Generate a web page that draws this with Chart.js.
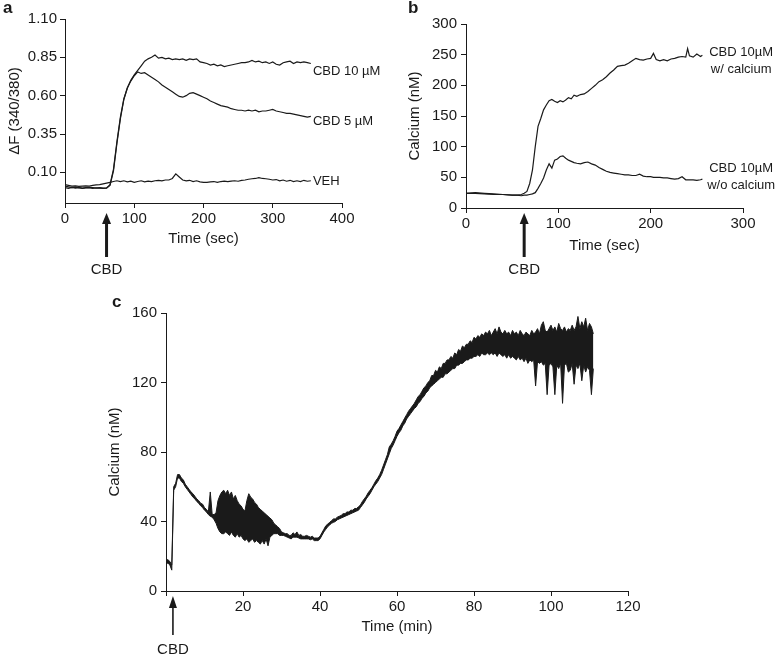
<!DOCTYPE html>
<html lang="fr">
<head>
<meta charset="utf-8">
<title>CBD - calcium intracellulaire</title>
<script src="https://cdn.jsdelivr.net/npm/chart.js@4.4.1/dist/chart.umd.min.js"></script>
<style>
  html, body { margin: 0; padding: 0; background: #fff; }
  #page { position: relative; width: 777px; height: 668px; }
  canvas { position: absolute; }
</style>
</head>
<body>
<div id="page">
  <canvas id="graph-a" width="390" height="290" style="left:0;top:0"></canvas>
  <canvas id="graph-b" width="387" height="290" style="left:390px;top:0"></canvas>
  <canvas id="graph-c" width="777" height="378" style="left:0;top:290px"></canvas>
</div>
<script>
/*
 * Trois panneaux : reponse calcique au CBD (a: ratio 340/380, b: calcium en nM,
 * c: enregistrement long en minutes). Valeurs relevees a l'oeil sur la figure.
 */

const ENCRE = "#1a1a1a";
const POLICE = "'Liberation Sans', Arial, Helvetica, sans-serif";

// ---------- Donnees panneau a (secondes / delta F) ----------

const tempsA = [
  0, 5, 10, 15, 20, 25, 30, 35, 40, 45,
  50, 55, 60, 65, 70, 75, 80, 85, 90, 95,
  100, 105, 110, 115, 120, 125, 130, 135, 140, 145,
  150, 155, 160, 165, 170, 175, 180, 185, 190, 195,
  200, 205, 210, 215, 220, 225, 230, 235, 240, 245,
  250, 255, 260, 265, 270, 275, 280, 285, 290, 295,
  300, 305, 310, 315, 320, 325, 330, 335, 340, 345,
  350, 355
];
const cbd10A = [
  0.01, 0.005, 0.0, 0.003, 0.0, -0.003, 0.0, 0.002, 0.0, -0.002,
  0.0, -0.003, -0.002, 0.02, 0.12, 0.30, 0.46, 0.58, 0.65, 0.70,
  0.735, 0.765, 0.795, 0.825, 0.84, 0.85, 0.865, 0.845, 0.85, 0.84,
  0.845, 0.835, 0.84, 0.835, 0.84, 0.83, 0.84, 0.835, 0.84, 0.82,
  0.815, 0.81, 0.80, 0.805, 0.795, 0.80, 0.79, 0.795, 0.80, 0.805,
  0.81, 0.815, 0.815, 0.82, 0.83, 0.82, 0.825, 0.815, 0.82, 0.81,
  0.82, 0.805, 0.80, 0.815, 0.82, 0.825, 0.81, 0.82, 0.815, 0.82,
  0.815, 0.81
];
const cbd5A = [
  0.0, -0.005, 0.002, -0.003, 0.0, -0.005, -0.002, 0.0, -0.004, -0.002,
  -0.003, -0.005, -0.004, 0.015, 0.11, 0.29, 0.45, 0.575, 0.65, 0.695,
  0.73, 0.755, 0.745, 0.75, 0.735, 0.72, 0.705, 0.69, 0.67, 0.655,
  0.64, 0.625, 0.61, 0.595, 0.59, 0.60, 0.615, 0.62, 0.61, 0.60,
  0.59, 0.58, 0.565, 0.555, 0.545, 0.535, 0.53, 0.525, 0.515, 0.51,
  0.505, 0.505, 0.50, 0.505, 0.50, 0.505, 0.495, 0.50, 0.50, 0.505,
  0.51, 0.50, 0.495, 0.49, 0.485, 0.485, 0.48, 0.475, 0.47, 0.465,
  0.46, 0.465
];
const vehA = [
  0.02, 0.015, 0.01, 0.012, 0.008, 0.01, 0.012, 0.01, 0.015, 0.018,
  0.02, 0.025, 0.03, 0.035, 0.04, 0.045, 0.04, 0.045, 0.038, 0.042,
  0.035, 0.04, 0.045, 0.038, 0.042, 0.04, 0.045, 0.048, 0.045, 0.05,
  0.05, 0.06, 0.09, 0.07, 0.05, 0.045, 0.048, 0.04, 0.045, 0.038,
  0.035, 0.035, 0.038, 0.04, 0.035, 0.04, 0.042, 0.04, 0.043, 0.045,
  0.042, 0.048, 0.05, 0.055, 0.058, 0.06, 0.065, 0.06, 0.058, 0.055,
  0.05, 0.053, 0.045, 0.05, 0.042, 0.048, 0.04, 0.045, 0.04, 0.048,
  0.042, 0.045
];
const graduationsXA = [0, 100, 200, 300, 400];
const graduationsYA = [0.10, 0.35, 0.60, 0.85, 1.10];

// ---------- Donnees panneau b (secondes / nM) ----------

const tempsB = [
  0, 10, 20, 30, 40, 50, 55, 60, 63, 66,
  69, 72, 75, 78, 81, 84, 87, 90, 93, 96,
  99, 102, 105, 108, 111, 114, 117, 120, 124, 128,
  132, 136, 140, 144, 148, 152, 156, 160, 164, 168,
  172, 176, 180, 184, 188, 192, 196, 200, 203, 206,
  210, 214, 218, 222, 226, 230, 234, 238, 240, 242,
  246, 250, 254, 256
];
const avecCalciumB = [
  24, 25, 24, 23, 22, 21, 21, 22, 24, 27,
  40, 62, 100, 133, 146, 160, 168, 175, 177, 174,
  172, 175, 173, 176, 180, 178, 184, 182, 185, 186,
  190, 195, 200, 206, 209, 214, 220, 225, 231, 232,
  233, 236, 240, 244, 242, 241, 243, 244, 252, 242,
  240, 242, 240, 243, 244, 246, 247, 246, 260, 248,
  246, 251, 247, 249
];
const sansCalciumB = [
  24, 24, 23, 22, 22, 21, 21, 20, 21, 21,
  22, 23, 25, 32, 40, 49, 62, 72, 65, 78,
  80, 84, 85, 81, 78, 76, 74, 73, 72, 74,
  75, 72, 70, 66, 63, 60, 58, 57, 56, 55,
  54, 54, 53, 53, 55, 52, 51, 51, 50, 50,
  50, 49, 49, 48, 47, 48, 51, 46, 46, 46,
  46, 45, 46, 47
];
const graduationsXB = [0, 100, 200, 300];
const graduationsYB = [0, 50, 100, 150, 200, 250, 300];

// ---------- Donnees panneau c (minutes / nM, min et max par demi-minute) ----------

const tempsC = [
  0, 0.5, 1, 1.5, 2, 2.5, 3, 3.5, 4, 4.5,
  5, 5.5, 6, 6.5, 7, 7.5, 8, 8.5, 9, 9.5,
  10, 10.5, 11, 11.5, 12, 12.5, 13, 13.5, 14, 14.5,
  15, 15.5, 16, 16.5, 17, 17.5, 18, 18.5, 19, 19.5,
  20, 20.5, 21, 21.5, 22, 22.5, 23, 23.5, 24, 24.5,
  25, 25.5, 26, 26.5, 27, 27.5, 28, 28.5, 29, 29.5,
  30, 30.5, 31, 31.5, 32, 32.5, 33, 33.5, 34, 34.5,
  35, 35.5, 36, 36.5, 37, 37.5, 38, 38.5, 39, 39.5,
  40, 40.5, 41, 41.5, 42, 42.5, 43, 43.5, 44, 44.5,
  45, 45.5, 46, 46.5, 47, 47.5, 48, 48.5, 49, 49.5,
  50, 50.5, 51, 51.5, 52, 52.5, 53, 53.5, 54, 54.5,
  55, 55.5, 56, 56.5, 57, 57.5, 58, 58.5, 59, 59.5,
  60, 60.5, 61, 61.5, 62, 62.5, 63, 63.5, 64, 64.5,
  65, 65.5, 66, 66.5, 67, 67.5, 68, 68.5, 69, 69.5,
  70, 70.5, 71, 71.5, 72, 72.5, 73, 73.5, 74, 74.5,
  75, 75.5, 76, 76.5, 77, 77.5, 78, 78.5, 79, 79.5,
  80, 80.5, 81, 81.5, 82, 82.5, 83, 83.5, 84, 84.5,
  85, 85.5, 86, 86.5, 87, 87.5, 88, 88.5, 89, 89.5,
  90, 90.5, 91, 91.5, 92, 92.5, 93, 93.5, 94, 94.5,
  95, 95.5, 96, 96.5, 97, 97.5, 98, 98.5, 99, 99.5,
  100, 100.5, 101, 101.5, 102, 102.5, 103, 103.5, 104, 104.5,
  105, 105.5, 106, 106.5, 107, 107.5, 108, 108.5, 109, 109.5,
  110, 110.5, 111
];
const calciumMinC = [
  16, 16, 15, 12, 58, 60, 65, 65, 63, 62,
  60, 58.5, 57, 55.5, 54, 53, 51.5, 50.5, 49, 48,
  46.5, 45.5, 44, 43, 42.5, 41, 39, 36, 34, 33,
  33, 34, 33, 32, 34, 32, 31, 33, 31, 32,
  30, 29, 30, 28, 29, 30, 28, 29, 28, 27,
  29, 27, 30, 26, 31, 32, 33, 33, 33, 32,
  32, 32, 31.5, 31, 30.5, 30, 31, 31, 31, 30.5,
  30, 30, 30, 30, 30, 29.5, 30, 29, 29, 29,
  30, 32, 34, 35.5, 37, 38, 39, 39.5, 40, 41,
  41.5, 42, 42.5, 43, 43.5, 44, 44.5, 45, 45.5, 46,
  46.5, 48, 49.5, 51, 53, 54.5, 56, 58, 60, 61.5,
  63, 65, 67, 70, 73, 76, 79, 82, 84, 86.5,
  89, 91, 92.5, 95, 96.5, 99, 100.5, 102, 103.5, 105,
  106, 108, 109, 111, 112, 114, 115, 117, 118, 119,
  120, 121, 122, 123, 123, 125, 125, 126, 127, 128,
  128, 130, 130, 131, 131, 132, 133, 133, 134, 134,
  135, 135, 136, 135, 137, 136, 136, 137, 136, 137,
  136, 137, 135, 137, 136, 135, 136, 134, 136, 134,
  135, 134, 133, 135, 133, 134, 132, 134, 131, 133,
  132, 133, 118, 132, 131, 132, 130, 131, 113, 130,
  131, 129, 113, 130, 128, 131, 108, 130, 131, 126,
  127, 131, 119, 130, 128, 131, 121, 130, 126, 129,
  127, 113, 128
];
const calciumMaxC = [
  18, 18, 17, 15, 60, 62, 67, 67, 65, 64,
  61.5, 60, 58.5, 57, 56, 54.5, 53, 52, 50.5, 50,
  48, 47, 45.5, 57, 44, 44, 45, 52, 55, 57,
  58, 56, 58, 55, 57, 53, 55, 52, 50, 49,
  47, 46, 52, 56, 54, 53, 51, 50, 48, 47,
  46, 45, 44, 43, 42, 41, 39, 38, 37, 36,
  34, 33.5, 33, 33, 32, 32, 33.5, 32.5, 34, 32,
  32.5, 31.5, 31.5, 32, 31.5, 31, 31.5, 30.5, 30.5, 30.5,
  31.5, 33.5, 35.5, 37.5, 38.5, 39.5, 40.5, 41.5, 41.5, 42.5,
  43, 43.5, 44.5, 44.5, 45.5, 45.5, 46.5, 46.5, 47.5, 47.5,
  48.5, 49.5, 51.5, 53, 54.5, 56.5, 58, 59.5, 61.5, 63.5,
  65, 67, 69.5, 72.5, 75.5, 78.5, 83, 84.5, 86.5, 89,
  92, 93.5, 95.5, 97.5, 99.5, 101.5, 103.5, 105, 106.5, 108,
  110, 112, 113, 115, 117, 118, 120, 121, 124, 124,
  127, 126, 129, 128, 131, 131, 133, 133, 135, 134,
  137, 136, 139, 138, 141, 140, 142, 142, 144, 143,
  146, 145, 147, 146, 148, 147, 149, 148, 150, 147,
  149, 151, 148, 152, 149, 148, 150, 148, 149, 147,
  150, 148, 149, 147, 150, 148, 147, 149, 148, 147,
  150, 148, 149, 151, 148, 153, 155, 150, 149, 151,
  153, 150, 152, 149, 154, 151, 150, 152, 149, 151,
  150, 153, 150, 152, 158, 151, 155, 152, 157, 150,
  154, 152, 148
];
const graduationsXC = [0, 20, 40, 60, 80, 100, 120];
const graduationsYC = [0, 40, 80, 120, 160];

// ---------- Plugin : lettre, etiquettes des courbes, fleche CBD ----------

const decor = {
  id: "decor",
  afterDraw(chart, args, opts) {
    const ctx = chart.ctx;
    const sx = chart.scales.x;
    const sy = chart.scales.y;
    const bas = chart.chartArea.bottom;
    ctx.save();
    ctx.fillStyle = ENCRE;
    ctx.strokeStyle = ENCRE;

    // Lettre du panneau
    ctx.font = "bold 17px " + POLICE;
    ctx.textAlign = "left";
    ctx.textBaseline = "alphabetic";
    ctx.fillText(opts.lettre, opts.lettreX, opts.lettreY);

    // Etiquettes au bout des courbes
    ctx.font = "13px " + POLICE;
    ctx.textBaseline = "middle";
    for (const e of opts.etiquettes) {
      ctx.textAlign = opts.alignement;
      const px = sx.getPixelForValue(e.x);
      const py = sy.getPixelForValue(e.y);
      e.lignes.forEach((l, i) => ctx.fillText(l, px, py + i * 17));
    }

    // Fleche d'ajout du CBD sous l'axe des x
    const f = opts.fleche;
    const fx = sx.getPixelForValue(f.x);
    ctx.lineWidth = f.epaisseur;
    ctx.beginPath();
    ctx.moveTo(fx, bas + f.pointe + f.tete - 1);
    ctx.lineTo(fx, bas + f.fin);
    ctx.stroke();
    ctx.beginPath();
    ctx.moveTo(fx, bas + f.pointe);
    ctx.lineTo(fx - f.largeur / 2, bas + f.pointe + f.tete);
    ctx.lineTo(fx + f.largeur / 2, bas + f.pointe + f.tete);
    ctx.closePath();
    ctx.fill();
    ctx.font = "15px " + POLICE;
    ctx.textAlign = "center";
    ctx.fillText("CBD", fx, bas + f.texte);
    ctx.restore();
  }
};

// ---------- Construction des graphiques ----------

function points(temps, valeurs) {
  return temps.map((t, i) => ({ x: t, y: valeurs[i] }));
}

function axe(p) {
  return {
    type: "linear",
    min: p.min,
    max: p.max,
    afterBuildTicks: s => { s.ticks = p.graduations.map(v => ({ value: v })); },
    afterFit: s => { if (p.largeur) s.width = p.largeur; if (p.hauteur) s.height = p.hauteur; },
    grid: { drawOnChartArea: false, drawTicks: true, tickLength: 5, color: ENCRE, lineWidth: 1 },
    border: { display: true, color: ENCRE, width: 1 },
    ticks: {
      autoSkip: false, maxRotation: 0, padding: p.ecart, color: ENCRE,
      font: { family: POLICE, size: 15 },
      callback: p.format
    },
    title: {
      display: true, text: p.titre, color: ENCRE,
      font: { family: POLICE, size: 15 },
      padding: { top: p.retraitTitre || 0, bottom: 0 }
    }
  };
}

// bande = true : la 2e serie est remplie jusqu'a la 1re (enveloppe min/max du signal)
function dessiner(id, series, trait, bande, marges, x, y, deco) {
  return new Chart(document.getElementById(id), {
    type: "line",
    data: {
      datasets: series.map((s, i) => ({
        data: s, borderColor: ENCRE, borderWidth: trait, pointRadius: 0, tension: 0,
        backgroundColor: ENCRE, fill: bande && i > 0 ? "-1" : false
      }))
    },
    options: {
      responsive: false,
      animation: false,
      layout: { padding: marges },
      plugins: { legend: { display: false }, tooltip: { enabled: false }, decor: deco },
      scales: { x: axe(x), y: axe(y) }
    },
    plugins: [decor]
  });
}

// Panneau a
dessiner("graph-a",
  [points(tempsA, vehA), points(tempsA, cbd5A), points(tempsA, cbd10A)],
  1.2, false,
  { top: 19, right: 48, bottom: 42, left: 0 },
  { min: 0, max: 400, graduations: graduationsXA, hauteur: 45, ecart: 2, titre: "Time (sec)", format: v => v },
  { min: -0.1, max: 1.1, graduations: graduationsYA, largeur: 65, ecart: 3, titre: "\u0394F (340/380)", retraitTitre: 6, format: v => v.toFixed(2) },
  {
    lettre: "a", lettreX: 3, lettreY: 13, alignement: "left",
    etiquettes: [
      { lignes: ["CBD 10 \u00b5M"], x: 358, y: 0.76 },
      { lignes: ["CBD 5 \u00b5M"], x: 358, y: 0.43 },
      { lignes: ["VEH"], x: 358, y: 0.04 }
    ],
    fleche: { x: 60, pointe: 10, tete: 11, largeur: 9, fin: 54, epaisseur: 3, texte: 67 }
  });

// Panneau b
dessiner("graph-b",
  [points(tempsB, sansCalciumB), points(tempsB, avecCalciumB)],
  1.2, false,
  { top: 24, right: 34, bottom: 35, left: 0 },
  { min: 0, max: 300, graduations: graduationsXB, hauteur: 47, ecart: 2, titre: "Time (sec)", format: v => v },
  { min: 0, max: 300, graduations: graduationsYB, largeur: 76, ecart: 4, titre: "Calcium (nM)", retraitTitre: 16, format: v => v },
  {
    lettre: "b", lettreX: 18, lettreY: 13, alignement: "center",
    etiquettes: [
      { lignes: ["CBD 10\u00b5M", "w/ calcium"], x: 298, y: 254 },
      { lignes: ["CBD 10\u00b5M", "w/o calcium"], x: 298, y: 65 }
    ],
    fleche: { x: 63, pointe: 5, tete: 11, largeur: 9, fin: 49, epaisseur: 3, texte: 62 }
  });

// Panneau c
dessiner("graph-c",
  [points(tempsC, calciumMinC), points(tempsC, calciumMaxC)],
  1, true,
  { top: 23, right: 149, bottom: 32, left: 100 },
  { min: 0, max: 120, graduations: graduationsXC, hauteur: 45, ecart: 2, titre: "Time (min)", format: v => (v === 0 ? "" : v) },
  { min: 0, max: 160, graduations: graduationsYC, largeur: 66, ecart: 4, titre: "Calcium (nM)", retraitTitre: 6, format: v => v },
  {
    lettre: "c", lettreX: 112, lettreY: 17, alignement: "left",
    etiquettes: [],
    fleche: { x: 1.8, pointe: 5, tete: 12, largeur: 8, fin: 44, epaisseur: 1.6, texte: 59 }
  });
</script>
</body>
</html>
